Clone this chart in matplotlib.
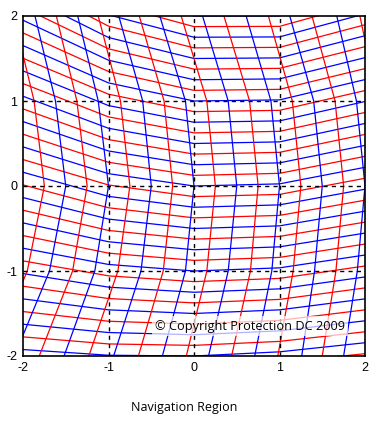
import matplotlib
matplotlib.use("Agg")
from matplotlib import pyplot as plt

plt.rcParams['axes.unicode_minus'] = False

# stations where the curves were read
x_st = [-2, -1, 0, 1, 2]
y_st = [2, 1, 0, -1, -2]

# "horizontal" curves: y read at x = -2, -1, 0, 1, 2 (top to bottom)
h_curves = [
    [2.844, 2.281, 2.0, 2.001, 2.284],
    [2.695, 2.148, 1.875, 1.878, 2.155],
    [2.546, 2.014, 1.75, 1.754, 2.026],
    [2.397, 1.881, 1.625, 1.631, 1.897],
    [2.248, 1.747, 1.5, 1.507, 1.768],
    [2.099, 1.614, 1.375, 1.384, 1.639],
    [1.95, 1.48, 1.25, 1.26, 1.51],
    [1.801, 1.347, 1.125, 1.137, 1.381],
    [1.652, 1.213, 1.0, 1.013, 1.252],
    [1.503, 1.080, 0.875, 0.890, 1.123],
    [1.354, 0.946, 0.75, 0.766, 0.994],
    [1.205, 0.813, 0.625, 0.643, 0.865],
    [1.056, 0.679, 0.5, 0.519, 0.736],
    [0.907, 0.546, 0.375, 0.396, 0.607],
    [0.758, 0.412, 0.25, 0.272, 0.478],
    [0.609, 0.279, 0.125, 0.149, 0.349],
    [0.46, 0.145, 0.0, 0.025, 0.22],
    [0.311, 0.012, -0.125, -0.099, 0.091],
    [0.162, -0.122, -0.25, -0.222, -0.038],
    [0.013, -0.256, -0.375, -0.346, -0.167],
    [-0.136, -0.389, -0.5, -0.469, -0.296],
    [-0.285, -0.523, -0.625, -0.593, -0.425],
    [-0.434, -0.656, -0.75, -0.716, -0.554],
    [-0.583, -0.790, -0.875, -0.840, -0.683],
    [-0.732, -0.923, -1.0, -0.963, -0.812],
    [-0.881, -1.057, -1.125, -1.087, -0.941],
    [-1.03, -1.19, -1.25, -1.21, -1.07],
    [-1.179, -1.324, -1.375, -1.334, -1.199],
    [-1.328, -1.457, -1.5, -1.457, -1.328],
    [-1.477, -1.591, -1.625, -1.581, -1.457],
    [-1.626, -1.724, -1.75, -1.704, -1.586],
    [-1.775, -1.858, -1.875, -1.828, -1.715],
    [-1.924, -1.991, -2.0, -1.951, -1.844],
    [-2.073, -2.125, -2.125, -2.075, -1.973],
]
h_colors = ['blue', 'red'] * 17

# "vertical" curves: x read at y = 2, 1, 0, -1, -2 (left to right)
v_curves = [
    [-2.11, -1.87, -1.75, -1.95, -2.37],
    [-1.86, -1.62, -1.5, -1.69, -2.10],
    [-1.61, -1.37, -1.25, -1.42, -1.81],
    [-1.36, -1.12, -1.0, -1.16, -1.52],
    [-1.12, -0.86, -0.75, -0.89, -1.23],
    [-0.88, -0.6, -0.5, -0.62, -0.94],
    [-0.64, -0.35, -0.25, -0.36, -0.65],
    [-0.40, -0.10, 0.0, -0.10, -0.37],
    [-0.15, 0.15, 0.25, 0.15, -0.09],
    [0.10, 0.40, 0.5, 0.40, 0.17],
    [0.35, 0.65, 0.75, 0.66, 0.44],
    [0.61, 0.90, 1.0, 0.91, 0.71],
    [0.87, 1.15, 1.25, 1.16, 0.98],
    [1.12, 1.40, 1.5, 1.41, 1.26],
    [1.38, 1.65, 1.75, 1.66, 1.50],
    [1.67, 1.90, 2.0, 1.91, 1.75],
    [1.94, 2.15, 2.25, 2.16, 2.00],
]
v_colors = ['red', 'blue'] * 8 + ['red']

fig = plt.figure(figsize=(3.91, 4.26), dpi=100)
ax = fig.add_axes([23 / 391, 70 / 426, 342 / 391, 340 / 426])

for ys, c in zip(h_curves, h_colors):
    ax.plot(x_st, ys, color=c, lw=0.9)
for xs, c in zip(v_curves, v_colors):
    ax.plot(xs, y_st, color=c, lw=0.9)

for g in [-1, 0, 1]:
    ax.axhline(g, color='black', ls=(0, (3, 3)), lw=1, zorder=3)
    ax.axvline(g, color='black', ls=(0, (3, 3)), lw=1, zorder=3)

ax.set_xlim(-2, 2)
ax.set_ylim(-2, 2)
ax.set_xticks([-2, -1, 0, 1, 2])
ax.set_yticks([-2, -1, 0, 1, 2])
ax.tick_params(length=0, labelsize=9, pad=4)
for lab in ax.get_xticklabels() + ax.get_yticklabels():
    lab.set_family('Liberation Sans')
for s in ax.spines.values():
    s.set_linewidth(1.2)

ax.text(0.9415, 0.088, '\u00a9 Copyright Protection DC 2009', transform=ax.transAxes,
        ha='right', va='center', fontsize=9.2, family='Open Sans', zorder=4,
        bbox=dict(facecolor='white', alpha=0.7, edgecolor='none', pad=2.5))

fig.text(0.47, 18 / 426, 'Navigation Region', ha='center', va='center',
         fontsize=9, family='Open Sans')

fig.savefig('out.png', dpi=100)
